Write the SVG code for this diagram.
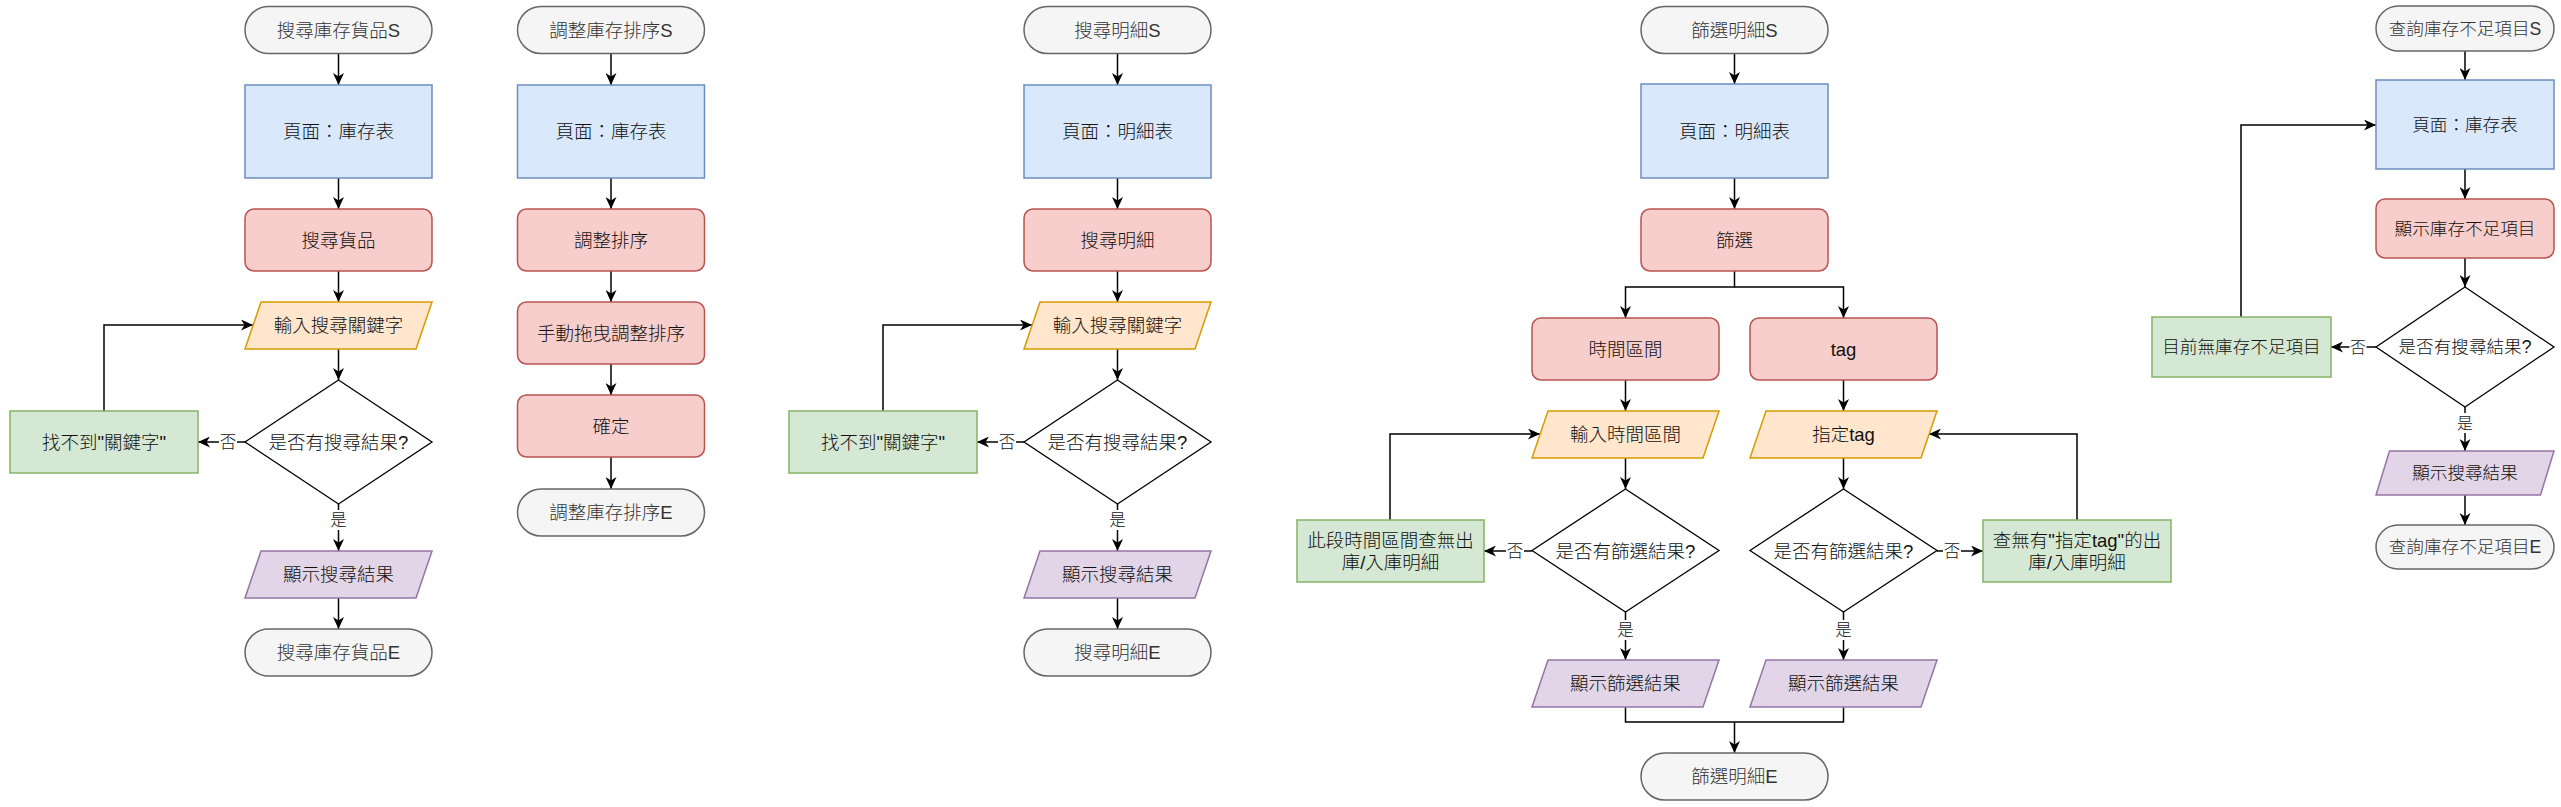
<svg xmlns="http://www.w3.org/2000/svg" width="2561" height="807" viewBox="0 0 2561 807">
<style>
text{font-family:"Liberation Sans","Noto Sans CJK TC",sans-serif;font-size:18.5px;font-weight:300;text-anchor:middle;dominant-baseline:central;fill:#111}
.c5 text{font-size:17.6px}
.term{fill:#f5f5f5;stroke:#666666;stroke-width:1.5}
.tt{fill:#333333}
.blue{fill:#dae8fc;stroke:#6c8ebf;stroke-width:1.5}
.red{fill:#f8cecc;stroke:#b85450;stroke-width:1.5}
.org{fill:#ffe6cc;stroke:#d79b00;stroke-width:1.5}
.grn{fill:#d5e8d4;stroke:#82b366;stroke-width:1.5}
.pur{fill:#e1d5e7;stroke:#9673a6;stroke-width:1.5}
.dia{fill:#ffffff;stroke:#000000;stroke-width:1.3}
#edges path{fill:none;stroke:#000;stroke-width:1.5;marker-end:url(#arr)}
#edges path.nm{marker-end:none}
.lbl rect{fill:#fff}
.lbl text{font-size:16.5px}
</style>
<defs>
<marker id="arr" viewBox="0 0 12 11" refX="12" refY="5.5" markerWidth="12" markerHeight="11" markerUnits="userSpaceOnUse" orient="auto">
<path d="M0,0 L12,5.5 L0,11 L3.5,5.5 Z" fill="#000"/>
</marker>
</defs>
<rect width="2561" height="807" fill="#ffffff"/>

<g id="edges">
<!-- column 1 -->
<path d="M338.5,53.5 V85"/>
<path d="M338.5,178 V209"/>
<path d="M338.5,271 V302"/>
<path d="M338.5,349 V380"/>
<path d="M245,442 H198"/>
<path d="M104,411 V325 H253"/>
<path d="M338.5,504 V551"/>
<path d="M338.5,598 V629"/>
<!-- column 2 -->
<path d="M611,53.5 V85"/>
<path d="M611,178 V209"/>
<path d="M611,271 V302"/>
<path d="M611,364 V395"/>
<path d="M611,457 V489"/>
<!-- column 3 -->
<path d="M1117.5,53.5 V85"/>
<path d="M1117.5,178 V209"/>
<path d="M1117.5,271 V302"/>
<path d="M1117.5,349 V380"/>
<path d="M1024,442 H977"/>
<path d="M883,411 V325 H1032"/>
<path d="M1117.5,504 V551"/>
<path d="M1117.5,598 V629"/>
<!-- column 4 -->
<path d="M1734.5,53.5 V84"/>
<path d="M1734.5,178 V209"/>
<path d="M1734.5,271 V287 H1625.5 V318"/>
<path d="M1734.5,287 H1843.5 V318"/>
<path d="M1625.5,380 V411"/>
<path d="M1843.5,380 V411"/>
<path d="M1625.5,458 V489"/>
<path d="M1843.5,458 V489"/>
<path d="M1532,551 H1484"/>
<path d="M1390,520 V434 H1540"/>
<path d="M1937,551 H1983"/>
<path d="M2077,520 V434 H1929"/>
<path d="M1625.5,612 V660"/>
<path d="M1843.5,612 V660"/>
<path class="nm" d="M1625.5,707 V722 H1843.5 V707"/>
<path d="M1734.5,722 V753"/>
<!-- column 5 -->
<path d="M2465,51 V80"/>
<path d="M2465,169 V199"/>
<path d="M2465,258 V287"/>
<path d="M2376,347 H2331"/>
<path d="M2241,317 V125 H2376"/>
<path d="M2465,407 V451"/>
<path d="M2465,495 V525"/>
</g>

<g id="edge-labels" class="lbl">
<rect x="219" y="432" width="18" height="20"/><text x="228" y="442">否</text>
<rect x="329.5" y="510" width="18" height="20"/><text x="338.5" y="520">是</text>
<rect x="998" y="432" width="18" height="20"/><text x="1007" y="442">否</text>
<rect x="1108.5" y="510" width="18" height="20"/><text x="1117.5" y="520">是</text>
<rect x="1506" y="541" width="18" height="20"/><text x="1515" y="551">否</text>
<rect x="1943" y="541" width="18" height="20"/><text x="1952" y="551">否</text>
<rect x="1616.5" y="620" width="18" height="20"/><text x="1625.5" y="630">是</text>
<rect x="1834.5" y="620" width="18" height="20"/><text x="1843.5" y="630">是</text>
<rect x="2349.5" y="337" width="17" height="20"/><text x="2358" y="347" style="font-size:15.8px">否</text>
<rect x="2456.5" y="413" width="17" height="20"/><text x="2465" y="423" style="font-size:15.8px">是</text>
</g>

<!-- column 1 -->
<g id="c1-start"><rect class="term" x="245" y="6.5" width="187" height="47" rx="23.5"/><text class="tt" x="338.5" y="30">搜尋庫存貨品S</text></g>
<g id="c1-page"><rect class="blue" x="245" y="85" width="187" height="93"/><text x="338.5" y="131.5">頁面：庫存表</text></g>
<g id="c1-search"><rect class="red" x="245" y="209" width="187" height="62" rx="9"/><text x="338.5" y="240">搜尋貨品</text></g>
<g id="c1-input"><polygon class="org" points="261,302 432,302 416,349 245,349"/><text x="338.5" y="325.5">輸入搜尋關鍵字</text></g>
<g id="c1-dec"><polygon class="dia" points="338.5,380 432,442 338.5,504 245,442"/><text x="338.5" y="442">是否有搜尋結果?</text></g>
<g id="c1-none"><rect class="grn" x="10" y="411" width="188" height="62"/><text x="104" y="442">找不到"關鍵字"</text></g>
<g id="c1-show"><polygon class="pur" points="261,551 432,551 416,598 245,598"/><text x="338.5" y="574.5">顯示搜尋結果</text></g>
<g id="c1-end"><rect class="term" x="245" y="629" width="187" height="47" rx="23.5"/><text class="tt" x="338.5" y="652.5">搜尋庫存貨品E</text></g>

<!-- column 2 -->
<g id="c2-start"><rect class="term" x="517.5" y="6.5" width="187" height="47" rx="23.5"/><text class="tt" x="611" y="30">調整庫存排序S</text></g>
<g id="c2-page"><rect class="blue" x="517.5" y="85" width="187" height="93"/><text x="611" y="131.5">頁面：庫存表</text></g>
<g id="c2-sort"><rect class="red" x="517.5" y="209" width="187" height="62" rx="9"/><text x="611" y="240">調整排序</text></g>
<g id="c2-drag"><rect class="red" x="517.5" y="302" width="187" height="62" rx="9"/><text x="611" y="333">手動拖曳調整排序</text></g>
<g id="c2-ok"><rect class="red" x="517.5" y="395" width="187" height="62" rx="9"/><text x="611" y="426">確定</text></g>
<g id="c2-end"><rect class="term" x="517.5" y="489" width="187" height="47" rx="23.5"/><text class="tt" x="611" y="512.5">調整庫存排序E</text></g>

<!-- column 3 -->
<g id="c3-start"><rect class="term" x="1024" y="6.5" width="187" height="47" rx="23.5"/><text class="tt" x="1117.5" y="30">搜尋明細S</text></g>
<g id="c3-page"><rect class="blue" x="1024" y="85" width="187" height="93"/><text x="1117.5" y="131.5">頁面：明細表</text></g>
<g id="c3-search"><rect class="red" x="1024" y="209" width="187" height="62" rx="9"/><text x="1117.5" y="240">搜尋明細</text></g>
<g id="c3-input"><polygon class="org" points="1040,302 1211,302 1195,349 1024,349"/><text x="1117.5" y="325.5">輸入搜尋關鍵字</text></g>
<g id="c3-dec"><polygon class="dia" points="1117.5,380 1211,442 1117.5,504 1024,442"/><text x="1117.5" y="442">是否有搜尋結果?</text></g>
<g id="c3-none"><rect class="grn" x="789" y="411" width="188" height="62"/><text x="883" y="442">找不到"關鍵字"</text></g>
<g id="c3-show"><polygon class="pur" points="1040,551 1211,551 1195,598 1024,598"/><text x="1117.5" y="574.5">顯示搜尋結果</text></g>
<g id="c3-end"><rect class="term" x="1024" y="629" width="187" height="47" rx="23.5"/><text class="tt" x="1117.5" y="652.5">搜尋明細E</text></g>

<!-- column 4 -->
<g id="c4-start"><rect class="term" x="1641" y="6.5" width="187" height="47" rx="23.5"/><text class="tt" x="1734.5" y="30">篩選明細S</text></g>
<g id="c4-page"><rect class="blue" x="1641" y="84" width="187" height="94"/><text x="1734.5" y="131">頁面：明細表</text></g>
<g id="c4-filter"><rect class="red" x="1641" y="209" width="187" height="62" rx="9"/><text x="1734.5" y="240">篩選</text></g>
<g id="c4-time"><rect class="red" x="1532" y="318" width="187" height="62" rx="9"/><text x="1625.5" y="349">時間區間</text></g>
<g id="c4-tag"><rect class="red" x="1750" y="318" width="187" height="62" rx="9"/><text x="1843.5" y="349">tag</text></g>
<g id="c4-time-in"><polygon class="org" points="1548,411 1719,411 1703,458 1532,458"/><text x="1625.5" y="434.5">輸入時間區間</text></g>
<g id="c4-tag-in"><polygon class="org" points="1766,411 1937,411 1921,458 1750,458"/><text x="1843.5" y="434.5">指定tag</text></g>
<g id="c4-dec-l"><polygon class="dia" points="1625.5,489 1719,550.5 1625.5,612 1532,550.5"/><text x="1625.5" y="551">是否有篩選結果?</text></g>
<g id="c4-dec-r"><polygon class="dia" points="1843.5,489 1937,550.5 1843.5,612 1750,550.5"/><text x="1843.5" y="551">是否有篩選結果?</text></g>
<g id="c4-none-l"><rect class="grn" x="1297" y="520" width="187" height="62"/><text x="1390.5" y="540.5">此段時間區間查無出</text><text x="1390.5" y="562">庫/入庫明細</text></g>
<g id="c4-none-r"><rect class="grn" x="1983" y="520" width="188" height="62"/><text x="2077" y="540.5">查無有"指定tag"的出</text><text x="2077" y="562">庫/入庫明細</text></g>
<g id="c4-show-l"><polygon class="pur" points="1548,660 1719,660 1703,707 1532,707"/><text x="1625.5" y="683.5">顯示篩選結果</text></g>
<g id="c4-show-r"><polygon class="pur" points="1766,660 1937,660 1921,707 1750,707"/><text x="1843.5" y="683.5">顯示篩選結果</text></g>
<g id="c4-end"><rect class="term" x="1641" y="753" width="187" height="47" rx="23.5"/><text class="tt" x="1734.5" y="776.5">篩選明細E</text></g>

<!-- column 5 -->
<g class="c5">
<g id="c5-start"><rect class="term" x="2376" y="6" width="178" height="45" rx="22.5"/><text class="tt" x="2465" y="28.5">查詢庫存不足項目S</text></g>
<g id="c5-page"><rect class="blue" x="2376" y="80" width="178" height="89"/><text x="2465" y="124.5">頁面：庫存表</text></g>
<g id="c5-show-low"><rect class="red" x="2376" y="199" width="178" height="59" rx="9"/><text x="2465" y="228.5">顯示庫存不足項目</text></g>
<g id="c5-dec"><polygon class="dia" points="2465,287 2554,347 2465,407 2376,347"/><text x="2465" y="347">是否有搜尋結果?</text></g>
<g id="c5-none"><rect class="grn" x="2152" y="317" width="179" height="60"/><text x="2241.5" y="347">目前無庫存不足項目</text></g>
<g id="c5-show"><polygon class="pur" points="2389.5,451 2554,451 2540.5,495 2376,495"/><text x="2465" y="473">顯示搜尋結果</text></g>
<g id="c5-end"><rect class="term" x="2376" y="525" width="178" height="44" rx="22"/><text class="tt" x="2465" y="547">查詢庫存不足項目E</text></g>
</g>
</svg>
